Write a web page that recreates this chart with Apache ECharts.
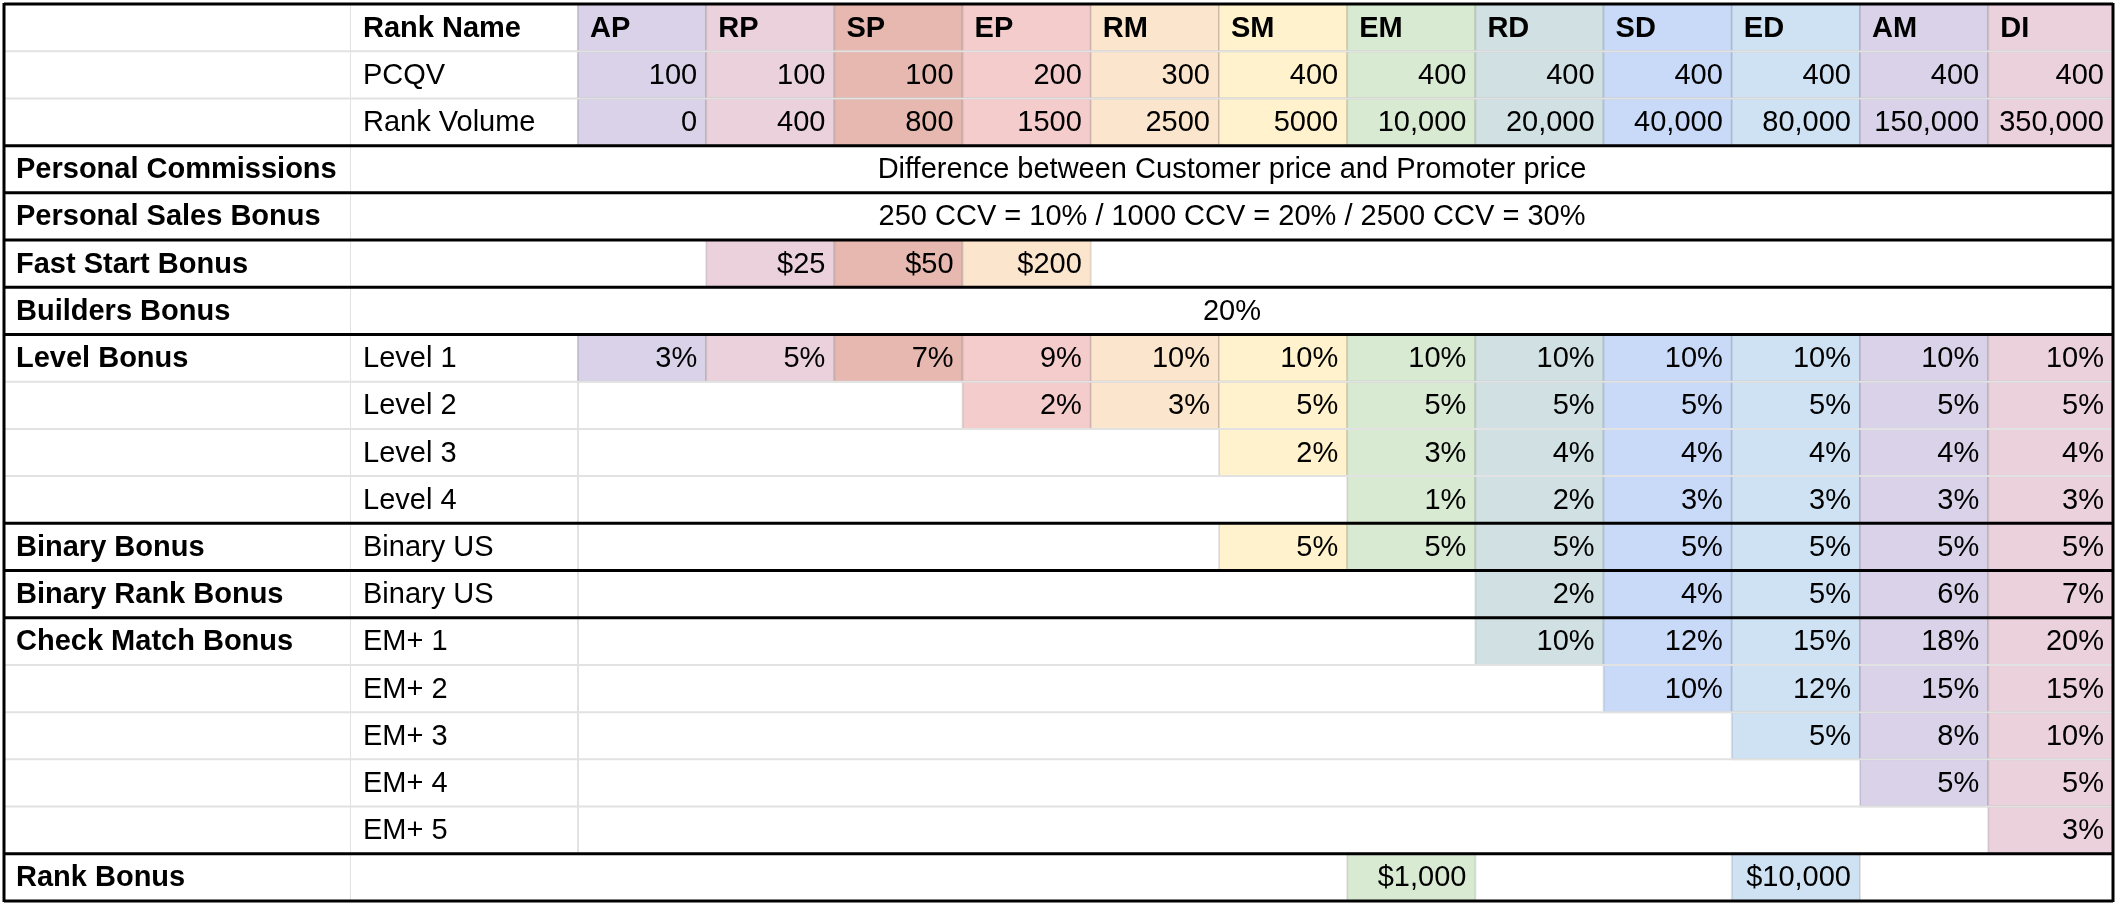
<!DOCTYPE html>
<html><head><meta charset="utf-8">
<script src="https://cdn.jsdelivr.net/npm/echarts@6/dist/echarts.min.js"></script>
<style>html,body{margin:0;background:#fff}#c{width:2116px;height:904px}</style>
</head><body><div id="c"></div>
<script>
// ---- data ----
const ranks = ['AP','RP','SP','EP','RM','SM','EM','RD','SD','ED','AM','DI'];
const pcqv = ['100','100','100','200','300','400','400','400','400','400','400','400'];
const rankVolume = ['0','400','800','1500','2500','5000','10,000','20,000','40,000','80,000','150,000','350,000'];
const personalCommissions = 'Difference between Customer price and Promoter price';
const personalSalesBonus = '250 CCV = 10% / 1000 CCV = 20% / 2500 CCV = 30%';
const fastStart = [null,'$25','$50','$200',null,null,null,null,null,null,null,null];
const buildersBonus = '20%';
const level1 = ['3%','5%','7%','9%','10%','10%','10%','10%','10%','10%','10%','10%'];
const level2 = [null,null,null,'2%','3%','5%','5%','5%','5%','5%','5%','5%'];
const level3 = [null,null,null,null,null,'2%','3%','4%','4%','4%','4%','4%'];
const level4 = [null,null,null,null,null,null,'1%','2%','3%','3%','3%','3%'];
const binaryUS = [null,null,null,null,null,'5%','5%','5%','5%','5%','5%','5%'];
const binaryRank = [null,null,null,null,null,null,null,'2%','4%','5%','6%','7%'];
const em1 = [null,null,null,null,null,null,null,'10%','12%','15%','18%','20%'];
const em2 = [null,null,null,null,null,null,null,null,'10%','12%','15%','15%'];
const em3 = [null,null,null,null,null,null,null,null,null,'5%','8%','10%'];
const em4 = [null,null,null,null,null,null,null,null,null,null,'5%','5%'];
const em5 = [null,null,null,null,null,null,null,null,null,null,null,'3%'];
const rankBonus = [null,null,null,null,null,null,'$1,000',null,null,'$10,000',null,null];

// ---- styling ----
const rankColors = ['#d9d2e9','#ead1dc','#e6b8af','#f4cccc','#fce5cd','#fff2cc','#d9ead3','#d0e0e3','#c9daf8','#cfe2f3','#d9d2e9','#ead1dc'];
const colEdges = [0,347,574,702.2,830.4,958.6,1086.8,1215,1343.2,1471.4,1599.6,1727.8,1856,1984.2,2109];

const rows = [
  {a:'',b:'Rank Name',hdr:true,cells:ranks},
  {a:'',b:'PCQV',cells:pcqv},
  {a:'',b:'Rank Volume',cells:rankVolume},
  {a:'Personal Commissions',merged:personalCommissions},
  {a:'Personal Sales Bonus',merged:personalSalesBonus},
  {a:'Fast Start Bonus',b:'',cells:fastStart,colorShift:{3:4},noSep:true},
  {a:'Builders Bonus',merged:buildersBonus},
  {a:'Level Bonus',b:'Level 1',cells:level1},
  {a:'',b:'Level 2',cells:level2},
  {a:'',b:'Level 3',cells:level3},
  {a:'',b:'Level 4',cells:level4},
  {a:'Binary Bonus',b:'Binary US',cells:binaryUS},
  {a:'Binary Rank Bonus',b:'Binary US',cells:binaryRank},
  {a:'Check Match Bonus',b:'EM+ 1',cells:em1},
  {a:'',b:'EM+ 2',cells:em2},
  {a:'',b:'EM+ 3',cells:em3},
  {a:'',b:'EM+ 4',cells:em4},
  {a:'',b:'EM+ 5',cells:em5},
  {a:'Rank Bonus',b:'',cells:rankBonus,noSep:true}
];
const thickAfter = [-1,2,3,4,5,6,10,11,12,17,18];

// cell items: [x0,x1,row,text,fill,stroke,align,bold,sep]
const items = [];
rows.forEach((r,i)=>{
  items.push([colEdges[0],colEdges[1],i,r.a,'#ffffff','none','left',1,1]);
  if (r.merged!==undefined){
    items.push([colEdges[1],colEdges[14],i,r.merged,'#ffffff','none','center',0,0]);
    return;
  }
  items.push([colEdges[1],colEdges[2],i,r.b,'#ffffff','none','left',r.hdr?1:0,r.noSep?0:1]);
  r.cells.forEach((v,k)=>{
    if (v===null) return;
    let ci = (r.colorShift && r.colorShift[k]!==undefined)? r.colorShift[k] : k;
    items.push([colEdges[k+2],colEdges[k+3],i,v,rankColors[ci],'rgba(0,0,0,0.10)',r.hdr?'left':'right',r.hdr?1:0,0]);
  });
});
const lines = [];
rows.forEach((r,i)=>lines.push([colEdges[0],colEdges[14],i+1,'#e2e2e2',2]));
thickAfter.forEach(i=>lines.push([colEdges[0],colEdges[14],i+1,'#000000',3]));

const chart = echarts.init(document.getElementById('c'));
chart.setOption({
  animation:false,
  grid:{left:4,right:3,top:4,bottom:3},
  xAxis:{type:'value',min:0,max:2109,show:false},
  yAxis:{type:'value',min:0,max:19,inverse:true,show:false},
  series:[
    {type:'custom',data:items,renderItem:(p,api)=>{
      const x0=api.value(0),x1=api.value(1),r=api.value(2);
      const a=api.coord([x0,r]),b=api.coord([x1,r+1]);
      const d=items[p.dataIndexInside];
      const col=[];
      col.push({type:'rect',shape:{x:a[0],y:a[1],width:b[0]-a[0],height:b[1]-a[1]},
        style:{fill:d[4],stroke:d[5]==='none'?null:d[5],lineWidth:2}});
      if (d[8]) col.push({type:'line',shape:{x1:b[0],y1:a[1],x2:b[0],y2:b[1]},style:{stroke:'#e2e2e2',lineWidth:2}});
      let tx = d[6]==='left'? a[0]+12 : d[6]==='right'? b[0]-9 : (a[0]+b[0])/2;
      col.push({type:'text',style:{text:d[3],x:tx,y:(a[1]+b[1])/2+1,align:d[6],verticalAlign:'middle',
        font:(d[7]?'bold ':'')+'29px "Liberation Sans", Arial, sans-serif',fill:'#000'}});
      return {type:'group',children:col};
    }},
    {type:'custom',data:lines,z:5,renderItem:(p,api)=>{
      const d=lines[p.dataIndexInside];
      const a=api.coord([d[0],d[2]]),b=api.coord([d[1],d[2]]);
      return {type:'line',shape:{x1:a[0],y1:a[1],x2:b[0],y2:b[1]},style:{stroke:d[3],lineWidth:d[4]}};
    }},
    {type:'custom',data:[[0],[2109]],z:6,renderItem:(p,api)=>{
      const x=api.value(0);const a=api.coord([x,0]),b=api.coord([x,19]);
      return {type:'line',shape:{x1:a[0],y1:a[1]-1,x2:b[0],y2:b[1]+1},style:{stroke:'#000',lineWidth:3}};
    }}
  ]
});
</script></body></html>
